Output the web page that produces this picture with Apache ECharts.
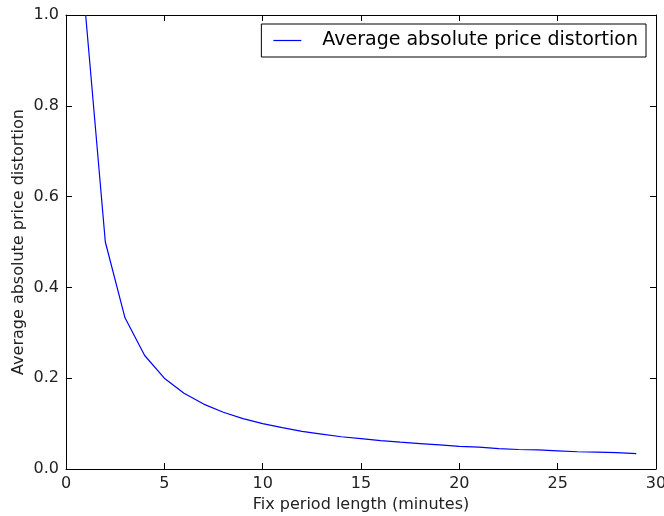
<!DOCTYPE html>
<html>
<head>
<meta charset="utf-8">
<script src="https://cdn.jsdelivr.net/npm/echarts@6/dist/echarts.min.js"></script>
<style>
  html, body { margin: 0; padding: 0; background: #fff; }
  #chart { width: 664px; height: 516px; }
</style>
</head>
<body>
<div id="chart"></div>
<script>
    // fix period lengths (minutes)
    const periods = [1, 2, 3, 4, 5, 6, 7, 8, 9, 10, 11, 12, 13, 14, 15, 16, 17, 18, 19, 20, 21, 22, 23, 24, 25, 26, 27, 28, 29];
    // average absolute price distortion
    const distortion = [1.0, 0.5, 0.333, 0.25, 0.2, 0.167, 0.143, 0.125, 0.111, 0.1, 0.091, 0.083, 0.077, 0.071, 0.067,
        0.0625, 0.059, 0.056, 0.053, 0.05, 0.048, 0.045, 0.043, 0.042, 0.04, 0.038, 0.037, 0.036, 0.034];
    const seriesName = 'Average absolute price distortion';

    const font = 'DejaVu Sans';
    let myChart = echarts.init(document.getElementById('chart'));
    let axisCommon = {
        axisLine: {show: true, onZero: false, lineStyle: {color: '#000', width: 1}},
        axisTick: {show: true, inside: true, length: 6, lineStyle: {color: '#000'}},
        splitLine: {show: false},
    };
    let option = {
        backgroundColor: '#fff',
        animation: false,
        grid: {left: 66, top: 15, right: 8, bottom: 47, containLabel: false, outerBoundsMode: 'none'},
        legend: {
            data: [seriesName],
            right: 18,
            top: 24,
            borderColor: '#000',
            borderWidth: 1,
            borderRadius: 0,
            padding: [7, 8, 7, 12],
            icon: 'rect',
            itemWidth: 28,
            itemHeight: 1.2,
            textStyle: {fontFamily: font, fontSize: 19, color: '#000', padding: [0, 0, 0, 16]}
        },
        xAxis: [{
            type: 'value', min: 0, max: 30, interval: 5,
            name: 'Fix period length (minutes)', nameLocation: 'middle', nameGap: 28,
            nameMoveOverlap: false,
            nameTextStyle: {fontFamily: font, fontSize: 16, color: '#222'},
            axisLabel: {fontFamily: font, fontSize: 16, color: '#222', margin: 7},
            ...axisCommon
        }, {
            type: 'value', min: 0, max: 30, interval: 5, position: 'top',
            axisLabel: {show: false},
            ...axisCommon
        }],
        yAxis: [{
            type: 'value', min: 0, max: 1, interval: 0.2,
            name: 'Average absolute price distortion', nameLocation: 'middle', nameGap: 39,
            nameMoveOverlap: false,
            nameTextStyle: {fontFamily: font, fontSize: 16, color: '#222'},
            axisLabel: {fontFamily: font, fontSize: 16, color: '#222', margin: 7, formatter: v => v.toFixed(1)},
            ...axisCommon
        }, {
            type: 'value', min: 0, max: 1, interval: 0.2, position: 'right',
            axisLabel: {show: false},
            ...axisCommon
        }],
        series: [{
            name: seriesName,
            type: 'line',
            data: periods.map((p, i) => [p, distortion[i]]),
            symbol: 'none',
            lineStyle: {color: '#0000ff', width: 1.2},
            itemStyle: {color: '#0000ff'}
        }]
    };
    myChart.setOption(option, true);
</script>
</body>
</html>
